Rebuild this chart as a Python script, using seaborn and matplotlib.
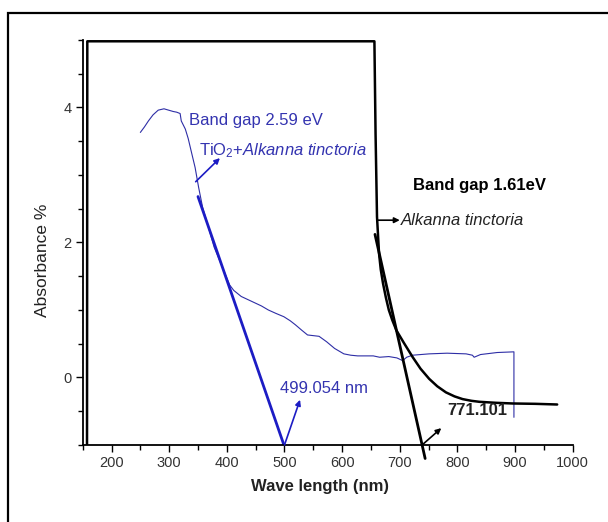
import matplotlib
matplotlib.use("Agg")
import matplotlib.pyplot as plt
import seaborn as sns
from matplotlib.patches import Rectangle
from matplotlib.ticker import MultipleLocator

# TiO2 + Alkanna tinctoria spectrum (blue)
blue_nm = [250, 257, 264, 272, 281, 291, 299, 307, 313, 319, 321, 328, 333, 338, 345, 351, 358,
           368, 378, 392, 405, 412, 425, 445, 460, 472, 485, 499, 510, 519, 530, 540, 550, 560,
           573, 587, 603, 615, 627, 654, 665, 681, 695, 705, 712, 722, 751, 782, 815, 826, 829,
           840, 869, 898, 898]
blue_abs = [3.63, 3.71, 3.80, 3.89, 3.96, 3.98, 3.96, 3.94, 3.93, 3.91, 3.80, 3.68, 3.54, 3.36,
            3.11, 2.82, 2.52, 2.23, 1.93, 1.64, 1.37, 1.29, 1.20, 1.12, 1.06, 1.00, 0.95, 0.90,
            0.84, 0.78, 0.70, 0.63, 0.62, 0.61, 0.53, 0.43, 0.35, 0.33, 0.32, 0.32, 0.30, 0.31,
            0.29, 0.25, 0.30, 0.33, 0.35, 0.36, 0.35, 0.33, 0.30, 0.34, 0.37, 0.38, -0.59]

# Alkanna tinctoria spectrum (black)
black_nm = [157.5, 158, 656, 658, 660.5, 664, 667, 671, 676, 681, 687, 694, 708, 722.5,
            736, 751, 765, 780, 795, 809, 824, 838, 867, 896, 935, 973]
black_abs = [-1.0, 4.98, 4.98, 3.61, 2.38, 1.84, 1.60, 1.39, 1.18, 1.00, 0.85, 0.70, 0.50,
             0.30, 0.13, -0.02, -0.13, -0.22, -0.28, -0.32, -0.345, -0.36, -0.375, -0.385,
             -0.39, -0.40]

# band gap tangents
blue_tan_nm = [350, 499.054]
blue_tan_abs = [2.68, -1.0]
black_tan_nm = [657, 744]
black_tan_abs = [2.12, -1.2]

x_ticks = [200, 300, 400, 500, 600, 700, 800, 900, 1000]
y_ticks = [0, 2, 4]

BLUE = "#2e2ea6"
BLUE_TAN = "#1c1cc4"
BLUE_TXT = "#3434b0"

sns.set_theme(style="white")
plt.rcParams['font.family'] = ['Liberation Sans', 'DejaVu Sans']
plt.rcParams['mathtext.fontset'] = 'custom'
plt.rcParams['mathtext.rm'] = 'Liberation Sans'
plt.rcParams['mathtext.it'] = 'Liberation Sans:italic'

fig = plt.figure(figsize=(6.08, 5.22), dpi=100)
ax = fig.add_axes([0.136, 0.1475, 0.806, 0.776])

sns.lineplot(x=blue_nm, y=blue_abs, sort=False, estimator=None, ax=ax, color=BLUE, lw=0.8)
sns.lineplot(x=black_nm, y=black_abs, sort=False, estimator=None, ax=ax, color="black", lw=1.8)
sns.lineplot(x=blue_tan_nm, y=blue_tan_abs, sort=False, estimator=None, ax=ax, color=BLUE_TAN, lw=2)
sns.lineplot(x=black_tan_nm, y=black_tan_abs, sort=False, estimator=None, ax=ax, color="black",
             lw=2, clip_on=False)

ax.set_xlim(150, 1000)
ax.set_ylim(-1, 5)
ax.set_xticks(x_ticks)
ax.set_yticks(y_ticks)
ax.xaxis.set_minor_locator(MultipleLocator(50))
ax.yaxis.set_minor_locator(MultipleLocator(0.5))
ax.tick_params(axis='both', which='major', direction='out', length=5, width=1,
               labelsize=10.5, colors='black', pad=3)
ax.tick_params(axis='both', which='minor', direction='out', length=3.5, width=1, colors='black')
ax.tick_params(axis='x', which='both', bottom=True)
ax.tick_params(axis='y', which='both', left=True)
for lab in ax.get_xticklabels() + ax.get_yticklabels():
    lab.set_color('#333333')

for side in ['top', 'right']:
    ax.spines[side].set_visible(False)
for side in ['left', 'bottom']:
    ax.spines[side].set_color('black')
    ax.spines[side].set_linewidth(1.3)

ax.set_xlabel('Wave length (nm)', fontsize=12, fontweight='bold', color='#222222')
ax.set_ylabel('Absorbance %', fontsize=12.5, color='#222222')
ax.xaxis.set_label_coords(0.485, -0.083)
ax.yaxis.set_label_coords(-0.066, 0.457)

# annotations
arrow_kw = dict(arrowstyle='-|>', mutation_scale=8, lw=1.2, shrinkA=0, shrinkB=0)

ax.text(334.6, 3.80, 'Band gap 2.59 eV', color=BLUE_TXT, fontsize=12, ha='left', va='center')
ax.text(352, 3.36, r'TiO$_2$+$\it{Alkanna\ tinctoria}$', color=BLUE_TXT, fontsize=12,
        ha='left', va='center')
ax.annotate('', xy=(388, 3.25), xytext=(346, 2.90),
            arrowprops=dict(color=BLUE_TAN, **arrow_kw))
ax.text(493, -0.16, '499.054 nm', color=BLUE_TXT, fontsize=12, ha='left', va='center')
ax.annotate('', xy=(527, -0.33), xytext=(500, -1.0),
            arrowprops=dict(color=BLUE_TAN, **arrow_kw))

ax.text(722.6, 2.84, 'Band gap 1.61eV', color='black', fontsize=12, fontweight='bold',
        ha='left', va='center')
ax.text(702.3, 2.32, 'Alkanna tinctoria', color='#222222', fontsize=12, style='italic',
        ha='left', va='center')
ax.annotate('', xy=(700, 2.33), xytext=(661, 2.33),
            arrowprops=dict(color='black', **arrow_kw))
ax.text(783, -0.49, '771.101', color='#222222', fontsize=12, fontweight='bold',
        ha='left', va='center')
ax.annotate('', xy=(772, -0.75), xytext=(740, -0.99),
            arrowprops=dict(color='black', **arrow_kw))

# outer frame
fig.add_artist(Rectangle((8 / 608, -0.1), 1.2, 0.975 + 0.1, transform=fig.transFigure,
                         fill=False, lw=1.6, ec='black'))

fig.savefig('out.png', dpi=100)
